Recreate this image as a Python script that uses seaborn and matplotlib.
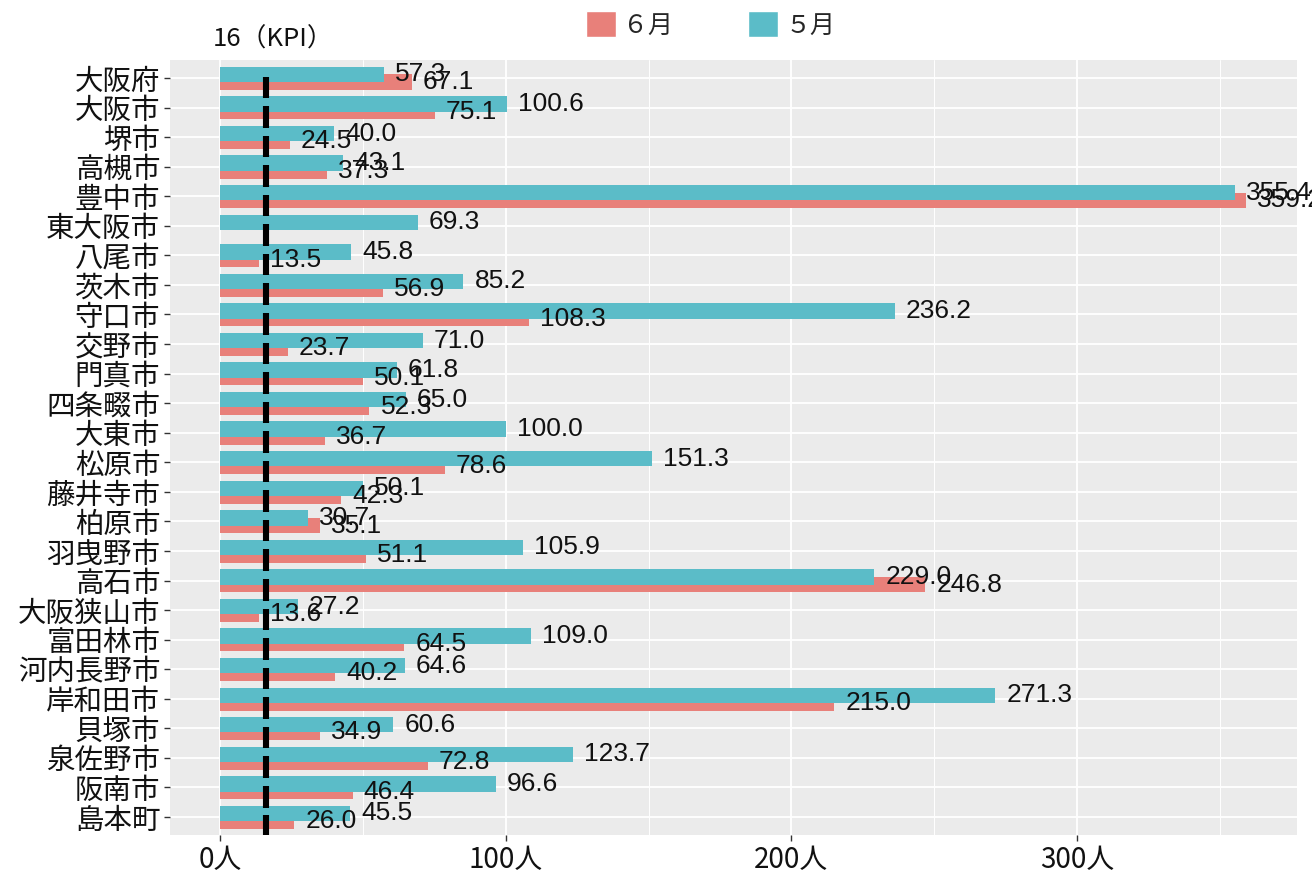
import matplotlib
matplotlib.use("Agg")
import matplotlib.pyplot as plt
from matplotlib.patches import Patch
from matplotlib.ticker import MultipleLocator
import numpy as np
import pandas as pd
import seaborn as sns

# Municipalities (top to bottom)
cities = ["大阪府", "大阪市", "堺市", "高槻市", "豊中市", "東大阪市", "八尾市", "茨木市",
          "守口市", "交野市", "門真市", "四条畷市", "大東市", "松原市", "藤井寺市", "柏原市",
          "羽曳野市", "高石市", "大阪狭山市", "富田林市", "河内長野市", "岸和田市", "貝塚市",
          "泉佐野市", "阪南市", "島本町"]

# Values per month (people)
may = [57.3, 100.6, 40.0, 43.1, 355.4, 69.3, 45.8, 85.2, 236.2, 71.0, 61.8, 65.0, 100.0,
       151.3, 50.1, 30.7, 105.9, 229.0, 27.2, 109.0, 64.6, 271.3, 60.6, 123.7, 96.6, 45.5]
june = [67.1, 75.1, 24.5, 37.3, 359.2, np.nan, 13.5, 56.9, 108.3, 23.7, 50.1, 52.3, 36.7,
        78.6, 42.3, 35.1, 51.1, 246.8, 13.6, 64.5, 40.2, 215.0, 34.9, 72.8, 46.4, 26.0]

months = ["５月", "６月"]
month_colors = {"５月": "#5BBCC8", "６月": "#E8807A"}
kpi = 16
kpi_label = "16（KPI）"
x_ticks = [0, 100, 200, 300]
x_ticklabels = [f"{t}人" for t in x_ticks]

# Long-format table; bars of the two months overlap slightly within each row
shift = {"５月": -0.12, "６月": 0.14}
rows = []
for i, c in enumerate(cities):
    for m, vals in (("５月", may), ("６月", june)):
        rows.append({"city": c, "month": m, "value": vals[i], "pos": i + shift[m]})
df = pd.DataFrame(rows)

sns.set_theme(style="darkgrid")
plt.rcParams["font.family"] = ["Noto Sans CJK JP", "DejaVu Sans"]

fig = plt.figure(figsize=(13.12, 8.74), dpi=100)
ax = fig.add_axes([170 / 1312, 1 - 835 / 874, (1297 - 170) / 1312, (835 - 60) / 874])
ax.set_facecolor("#EBEBEB")

# June first so May bars sit on top
for m in ["６月", "５月"]:
    sub = df[(df["month"] == m) & df["value"].notna()]
    sns.barplot(data=sub, x="value", y="pos", orient="h", native_scale=True,
                width=0.52, color=month_colors[m], saturation=1, errorbar=None,
                linewidth=0, ax=ax, zorder=2)

# Value labels
for _, r in df.dropna(subset=["value"]).iterrows():
    ax.annotate(f"{r['value']:.1f}", (r["value"], r["pos"]), xytext=(8, 0),
                textcoords="offset points", va="center", ha="left",
                fontsize=19, family="Liberation Sans", color="#111111",
                annotation_clip=False, zorder=4)

# KPI marker on every row
ypos = np.arange(len(cities))
ax.vlines([kpi] * len(cities), ypos - 0.05, ypos + 0.68, colors="black",
          linewidth=4.4, zorder=3)

ax.set_xlim(-17.5, 377)
ax.set_ylim(len(cities) - 1 + 0.61, -0.61)
ax.set_yticks(ypos)
ax.set_yticklabels(cities, fontsize=20.5, color="#111111")
ax.set_xticks(x_ticks)
ax.set_xticklabels(x_ticklabels, fontsize=20, color="#111111")
ax.xaxis.set_minor_locator(MultipleLocator(50))
ax.grid(which="major", color="white", linewidth=1.3)
ax.grid(which="minor", axis="x", color="white", linewidth=0.7)
ax.set_axisbelow(True)
ax.set_xlabel("")
ax.set_ylabel("")
for s in ax.spines.values():
    s.set_visible(False)
ax.tick_params(axis="both", which="major", length=4, width=1, color="#333333",
               bottom=True, left=True, pad=3)
ax.tick_params(axis="x", which="minor", length=0)

# KPI caption above the panel
fig.text(213 / 1312, 1 - 40 / 874, kpi_label, fontsize=18.5, va="center", ha="left",
         color="#111111")

# Legend at the top
handles = [Patch(facecolor=month_colors["６月"], label="６月"),
           Patch(facecolor=month_colors["５月"], label="５月")]
fig.legend(handles=handles, loc="center", bbox_to_anchor=(711 / 1312, 1 - 25 / 874),
           ncol=2, frameon=False, fontsize=18, handlelength=1.2, handleheight=1.2,
           handletextpad=0.3, columnspacing=3.0, borderaxespad=0)

fig.savefig("out.png", dpi=100, facecolor="white")
